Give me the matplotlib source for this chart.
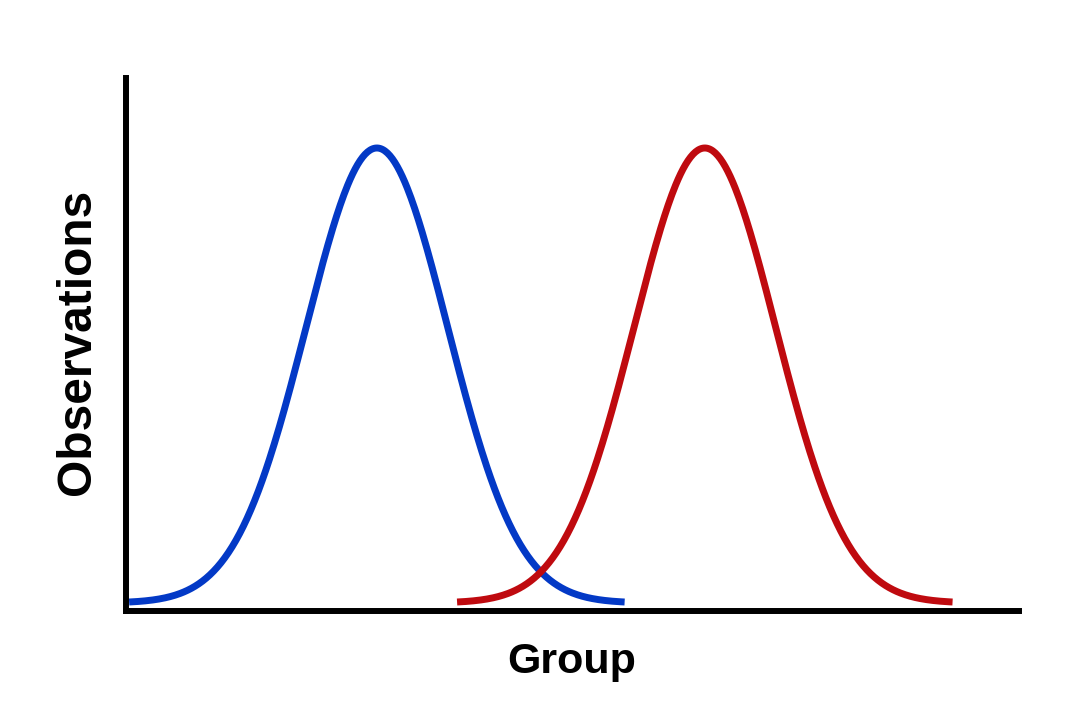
import numpy as np
import matplotlib
matplotlib.use("Agg")
import matplotlib.pyplot as plt

# Data (group distributions)
series_names = ["Group A", "Group B"]
means = [2.80, 6.46]
sds = [0.79, 0.79]
spans = [3.5, 3.5]          # extent of each curve in SDs
colors = ["#0339C6", "#BF0A0F"]
x_label = "Group"
y_label = "Observations"

fig = plt.figure(figsize=(10.65, 7.2), dpi=100)
ax = fig.add_axes([126 / 1065, 109.5 / 720, (1019 - 126) / 1065, (610.5 - 78) / 720])

for m, s, k, c in zip(means, sds, spans, colors):
    x = np.linspace(m - k * s, m + k * s, 400)
    y = np.exp(-0.5 * ((x - m) / s) ** 2)
    ax.plot(x, y, color=c, lw=5.0, solid_capstyle="butt")

ax.set_xlim(0, 10 * 893 / 896)
ax.set_ylim(-7.5 / 455, 525 / 455)
ax.set_xticks([])
ax.set_yticks([])
for side in ["top", "right"]:
    ax.spines[side].set_visible(False)
for side in ["left", "bottom"]:
    ax.spines[side].set_linewidth(4.3)
    ax.spines[side].set_capstyle("projecting")
    ax.spines[side].set_color("black")

fig.text(572 / 1065, 47 / 720, x_label, ha="center", va="baseline",
         fontsize=31, fontweight="bold", family="Liberation Sans")
fig.text(90 / 1065, 378.5 / 720, y_label, ha="center", va="baseline",
         rotation=90, rotation_mode="anchor", fontsize=34.5,
         fontweight="bold", family="Liberation Sans")

fig.savefig("out.png", dpi=100, facecolor="white")
